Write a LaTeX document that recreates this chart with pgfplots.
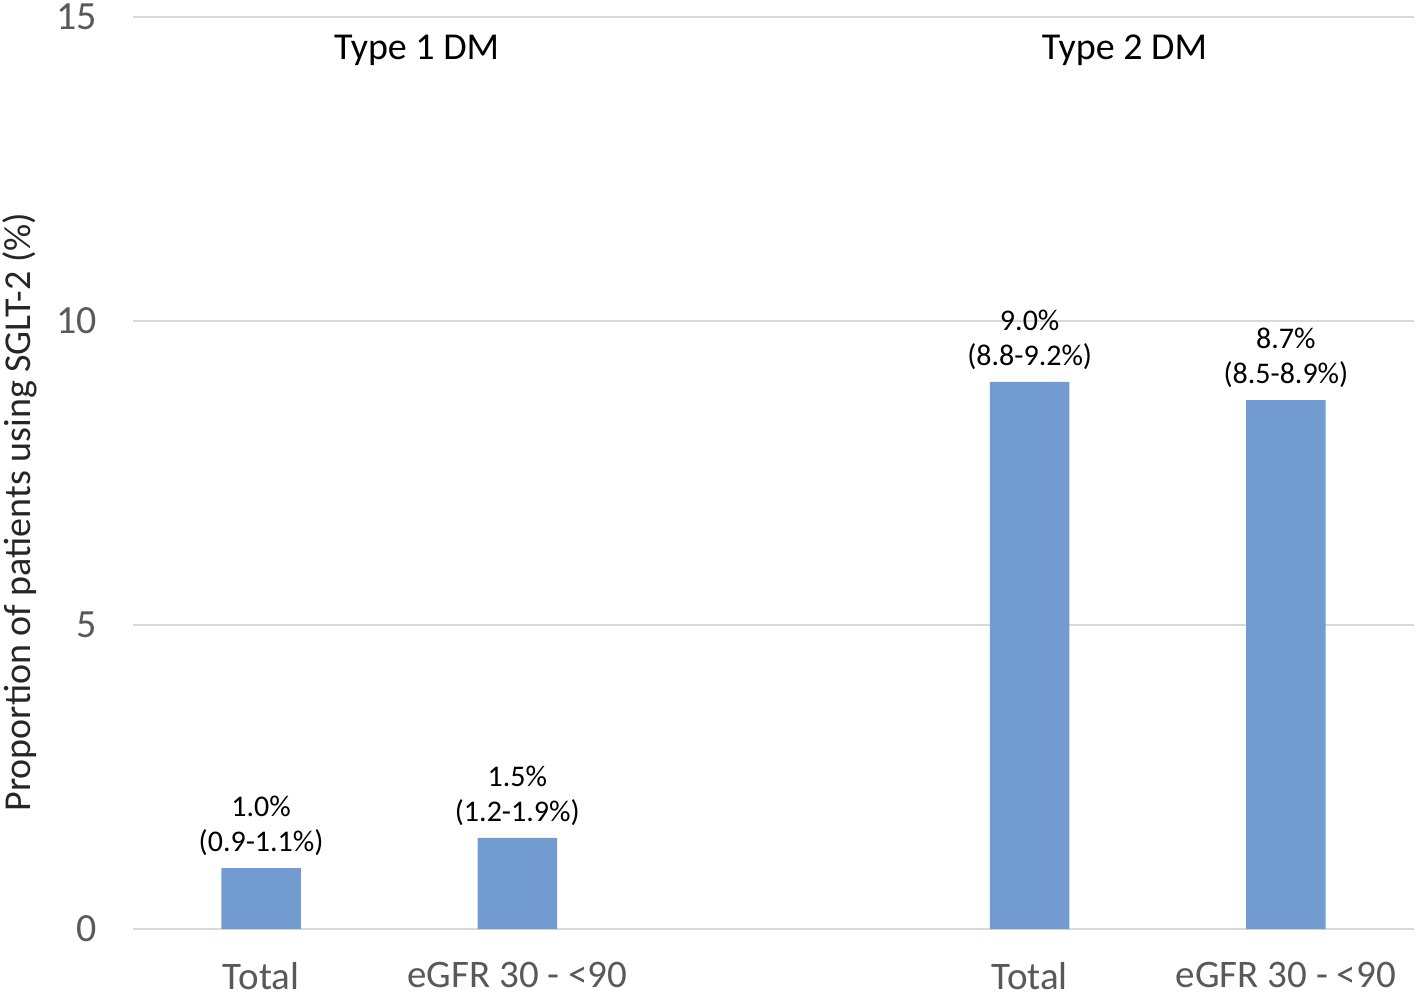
\documentclass[border=0pt]{standalone}
\usepackage{fontspec}
\setmainfont{Carlito}
\usepackage{pgfplots}
\pgfplotsset{compat=1.18}
\definecolor{barblue}{RGB}{114,155,209}
\definecolor{gridgray}{RGB}{217,217,217}
\definecolor{tickgray}{RGB}{89,89,89}
\begin{document}
\begin{tikzpicture}
% page = 1418 x 994 px at 0.5bp per px
\path[use as bounding box] (-66.5bp,-32.5bp) rectangle (642.5bp,464.5bp);
\begin{axis}[
    at={(0,0)}, anchor=south west,
    scale only axis,
    width=640.5bp, height=456bp,
    xmin=-0.5, xmax=4.5,
    ymin=0, ymax=15,
    ytick={0,5,10,15},
    xtick={0,1,3,4},
    xticklabels={Total,eGFR 30 - <90,Total,eGFR 30 - <90},
    axis line style={draw=none},
    major tick length=0pt,
    ymajorgrids=true,
    grid style={gridgray, line width=1.2bp},
    /pgf/number format/assume math mode=true,
    yticklabel style={font=\fontsize{20bp}{24bp}\selectfont, text=tickgray, xshift=-14.5bp},
    xticklabel style={font=\fontsize{19.5bp}{23bp}\selectfont, text=tickgray, yshift=-13bp},
    clip=false,
]
\addplot[ybar, bar width=0.31, fill=barblue, draw=none,
    point meta=explicit symbolic,
    nodes near coords,
    every node near coord/.append style={align=center, font=\fontsize{15bp}{17.5bp}\selectfont, inner sep=1bp, yshift=5bp},
] coordinates {
    (0,1.0) [{1.0\%\\(0.9-1.1\%)}]
    (1,1.5) [{1.5\%\\(1.2-1.9\%)}]
    (3,9.0) [{9.0\%\\(8.8-9.2\%)}]
    (4,8.7) [{8.7\%\\(8.5-8.9\%)}]
};
\node[font=\fontsize{19bp}{23bp}\selectfont] at (axis cs:0.607,14.45) {Type 1 DM};
\node[font=\fontsize{19bp}{23bp}\selectfont] at (axis cs:3.37,14.45) {Type 2 DM};
\end{axis}
\node[rotate=90, font=\fontsize{19bp}{23bp}\selectfont, text={rgb,255:red,38;green,38;blue,38}] at (-56.5bp,208.5bp) {Proportion of patients using SGLT-2 (\%)};
\end{tikzpicture}
\end{document}
